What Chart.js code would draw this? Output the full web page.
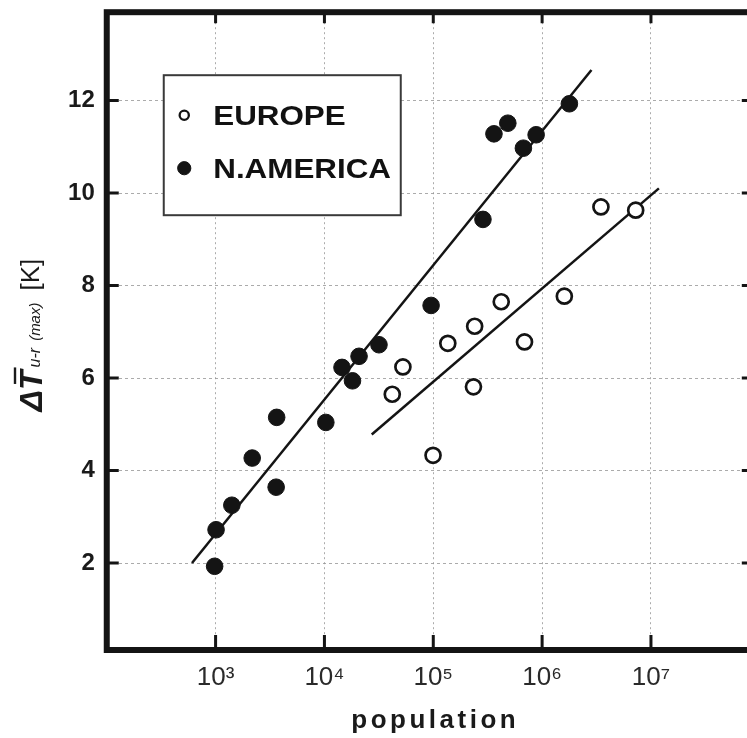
<!DOCTYPE html>
<html>
<head>
<meta charset="utf-8">
<style>
  html, body { margin: 0; padding: 0; background: #fff; overflow: hidden; }
  #wrap { width: 770px; height: 738px; }
</style>
<script src="https://cdn.jsdelivr.net/npm/chart.js@4.4.0/dist/chart.umd.min.js"></script>
</head>
<body>
<div id="wrap"><canvas id="c" width="770" height="738"></canvas></div>
<script>
// Urban-rural maximum temperature difference against city population
const seriesNames = ['EUROPE', 'N.AMERICA'];

const europePop = [42000, 52600, 99500, 136000, 240000, 234000, 421000, 689000, 1600000, 3470000, 7240000];
const europeDT  = [5.65, 6.24, 4.33, 6.75, 7.12, 5.81, 7.65, 6.78, 7.77, 9.70, 9.63];

const americaPop = [980, 1010, 1410, 2170, 3640, 3600, 10300, 14500, 18100, 20800, 31700, 95500,
                    286000, 361000, 484000, 673000, 881000, 1780000];
const americaDT  = [1.93, 2.72, 3.25, 4.27, 5.15, 3.64, 5.04, 6.23, 5.94, 6.47, 6.72, 7.57,
                    9.43, 11.28, 11.51, 10.97, 11.26, 11.93];

// regression line end points
const europeFitPop  = [27200, 11830000];
const europeFitDT   = [4.78, 10.10];
const americaFitPop = [607, 2840000];
const americaFitDT  = [2.0, 12.66];

const xTickValues = [1e3, 1e4, 1e5, 1e6, 1e7];
const yTickValues = [2, 4, 6, 8, 10, 12];
const xAxisTitle = 'population';
const yAxisTitleParts = ['\u0394T', 'u-r', '(max)', '[K]'];

const SUP = {'0':'\u2070','1':'\u00B9','2':'\u00B2','3':'\u00B3','4':'\u2074','5':'\u2075','6':'\u2076','7':'\u2077','8':'\u2078','9':'\u2079'};
const powLabel = v => '10' + String(Math.round(Math.log10(v))).split('').map(d => SUP[d]).join('');

const pts = (xs, ys) => xs.map((v, i) => ({x: v, y: ys[i]}));
const INK = '#141414';
const GRID = 'rgba(150,150,150,0.8)';
const FONT = "'Liberation Sans', Arial, sans-serif";

const europeStyle  = {backgroundColor: '#ffffff', borderColor: INK, borderWidth: 2.7, pointRadius: 7.5};
const americaStyle = {backgroundColor: INK, borderColor: INK, borderWidth: 1, pointRadius: 8.3};

const decorPlugin = {
  id: 'decor',
  afterDraw(chart) {
    const {ctx, chartArea: a, scales: {x, y}} = chart;
    ctx.save();

    // inward tick marks on all four sides
    ctx.strokeStyle = INK;
    ctx.lineWidth = 3;
    ctx.beginPath();
    xTickValues.forEach(v => {
      const px = x.getPixelForValue(v);
      ctx.moveTo(px, a.bottom); ctx.lineTo(px, a.bottom - 15);
      ctx.moveTo(px, a.top);    ctx.lineTo(px, a.top + 11);
    });
    yTickValues.forEach(v => {
      const py = y.getPixelForValue(v);
      ctx.moveTo(a.left, py);  ctx.lineTo(a.left + 12, py);
      ctx.moveTo(a.right, py); ctx.lineTo(a.right - 18, py);
    });
    ctx.stroke();

    // heavy frame
    ctx.lineWidth = 6;
    ctx.strokeRect(a.left, a.top, a.right - a.left, a.bottom - a.top);

    // legend box
    const bx = a.left + 57, by = a.top + 63, bw = 237, bh = 140;
    ctx.fillStyle = '#fff';
    ctx.fillRect(bx, by, bw, bh);
    ctx.lineWidth = 2;
    ctx.strokeStyle = '#3a3a3a';
    ctx.strokeRect(bx, by, bw, bh);

    const entries = [
      {label: chart.data.datasets[0].label, cy: by + 40, r: 4.6, fill: '#fff', lw: 2.3},
      {label: chart.data.datasets[1].label, cy: by + 93, r: 6.6, fill: INK, lw: 1}
    ];
    entries.forEach(e => {
      ctx.beginPath();
      ctx.arc(bx + 20.5, e.cy, e.r, 0, Math.PI * 2);
      ctx.fillStyle = e.fill; ctx.fill();
      ctx.lineWidth = e.lw; ctx.strokeStyle = INK; ctx.stroke();
      ctx.save();
      ctx.translate(bx + 49.5, e.cy + 10);
      ctx.scale(1.12, 1);
      ctx.fillStyle = '#111';
      ctx.font = 'bold 28px ' + FONT;
      ctx.textBaseline = 'alphabetic';
      ctx.textAlign = 'left';
      ctx.fillText(e.label, 0, 0);
      ctx.restore();
    });

    // x axis title
    ctx.fillStyle = '#1a1a1a';
    ctx.font = 'bold 26px ' + FONT;
    ctx.textAlign = 'center';
    ctx.textBaseline = 'alphabetic';
    if ('letterSpacing' in ctx) ctx.letterSpacing = '3.5px';
    ctx.fillText(xAxisTitle, (a.left + a.right) / 2 + 2, 728);
    if ('letterSpacing' in ctx) ctx.letterSpacing = '0px';

    // y axis title, rotated
    const [main, sub1, sub2, unit] = yAxisTitleParts;
    const fMain = 'italic bold 32px ' + FONT;
    const fSub1 = 'italic 16px ' + FONT;
    const fSub2 = 'italic 15px ' + FONT;
    const fUnit = '26px ' + FONT;
    ctx.font = fMain; const w1 = ctx.measureText(main).width; const wDelta = ctx.measureText(main[0]).width;
    ctx.font = fSub1; const w2 = ctx.measureText(sub1).width;
    ctx.font = fSub2; const w3 = ctx.measureText(sub2).width;
    ctx.font = fUnit; const w4 = ctx.measureText(unit).width;
    const g1 = 3, g2 = 7, g3 = 12;
    const total = w1 + g1 + w2 + g2 + w3 + g3 + w4;
    ctx.save();
    ctx.translate(42, (a.top + a.bottom) / 2 + 4);
    ctx.rotate(-Math.PI / 2);
    ctx.textAlign = 'left';
    ctx.fillStyle = '#1a1a1a';
    let cx = -total / 2;
    ctx.font = fMain; ctx.fillText(main, cx, 0);
    ctx.strokeStyle = '#1a1a1a'; ctx.lineWidth = 2.4;
    ctx.beginPath();
    ctx.moveTo(cx + wDelta + 6, -27); ctx.lineTo(cx + w1 + 3, -27);
    ctx.stroke();
    cx += w1 + g1;
    ctx.font = fSub1; ctx.fillText(sub1, cx, -2);
    cx += w2 + g2;
    ctx.font = fSub2; ctx.fillText(sub2, cx, -2);
    cx += w3 + g3;
    ctx.font = fUnit; ctx.fillText(unit, cx, -3);
    ctx.restore();

    ctx.restore();
  }
};

new Chart(document.getElementById('c'), {
  data: {
    datasets: [
      Object.assign({type: 'scatter', label: seriesNames[0], data: pts(europePop, europeDT), order: 0}, europeStyle),
      Object.assign({type: 'scatter', label: seriesNames[1], data: pts(americaPop, americaDT), order: 0}, americaStyle),
      {type: 'line', label: 'fit-eu', data: pts(europeFitPop, europeFitDT), borderColor: INK, borderWidth: 2.5,
       pointRadius: 0, fill: false, order: 1},
      {type: 'line', label: 'fit-na', data: pts(americaFitPop, americaFitDT), borderColor: INK, borderWidth: 2.5,
       pointRadius: 0, fill: false, order: 1}
    ]
  },
  options: {
    responsive: false,
    animation: false,
    events: [],
    layout: {padding: {left: 0, top: 12.2, right: 7.75, bottom: 0}},
    plugins: {legend: {display: false}, tooltip: {enabled: false}},
    scales: {
      x: {
        type: 'logarithmic',
        position: 'bottom',
        min: 1e2,
        max: 1e8,
        afterFit: s => { s.height = 88; s.paddingLeft = 0; s.paddingRight = 0; },
        afterBuildTicks: s => { s.ticks = xTickValues.map(v => ({value: v})); },
        grid: {color: GRID, lineWidth: 1, drawTicks: false},
        border: {display: false, dash: [2, 3]},
        ticks: {
          callback: v => powLabel(v),
          font: {family: FONT, size: 26},
          color: '#2a2a2a',
          padding: 12,
          maxRotation: 0,
          autoSkip: false
        }
      },
      y: {
        type: 'linear',
        position: 'left',
        min: 0.12,
        max: 13.91,
        afterFit: s => { s.width = 106.75; s.paddingTop = 0; s.paddingBottom = 0; },
        afterBuildTicks: s => { s.ticks = yTickValues.map(v => ({value: v})); },
        grid: {color: GRID, lineWidth: 1, drawTicks: false},
        border: {display: false, dash: [3, 3]},
        ticks: {
          font: {family: FONT, size: 24, weight: 'bold'},
          color: '#1a1a1a',
          padding: 12
        }
      }
    }
  },
  plugins: [decorPlugin]
});
</script>
</body>
</html>
